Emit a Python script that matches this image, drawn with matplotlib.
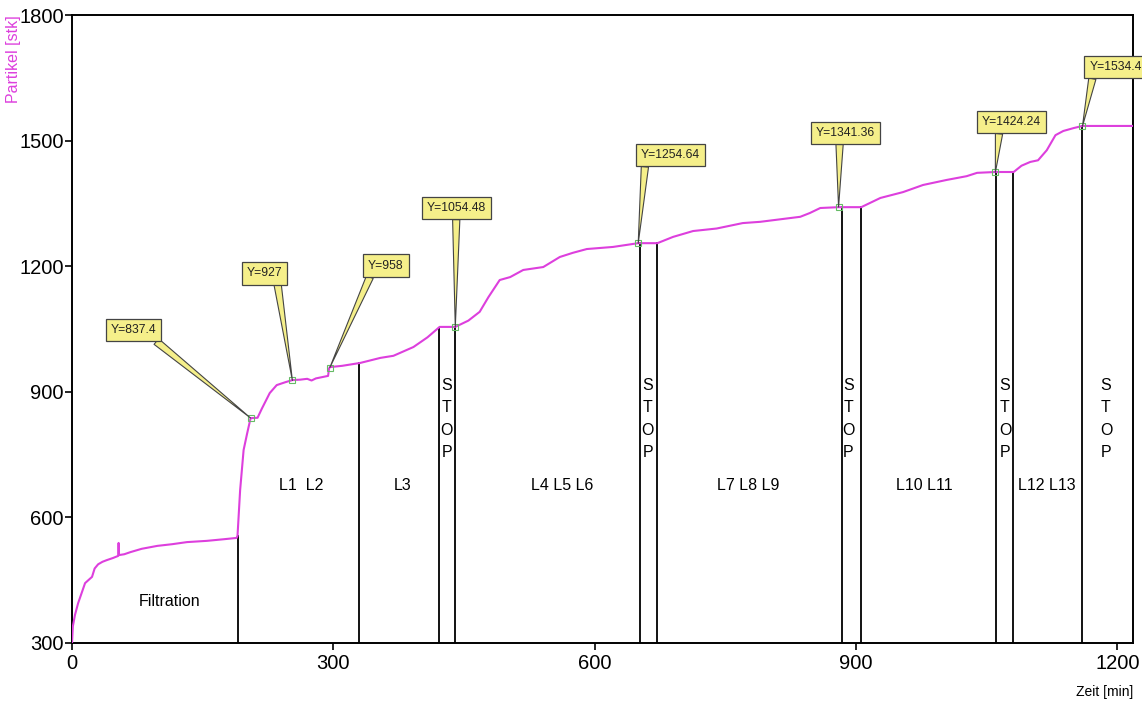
import matplotlib
matplotlib.use("Agg")
import matplotlib.pyplot as plt
import numpy as np

plt.rcParams['font.family'] = ['Liberation Sans', 'DejaVu Sans']

# Particle count curve: time [min] and particles [stk]
zeit = [0, 1, 3.4, 7, 15, 23, 26, 30, 35, 40, 47, 53, 53.5, 54, 60, 67, 80, 98, 115, 132,
        155, 175, 189, 190, 193, 197, 201, 205, 213, 218, 227, 235, 245, 253, 262, 270, 275,
        280, 294, 295, 296, 310, 331, 354, 369, 392, 408, 422, 440, 455, 468, 478, 491, 503,
        518, 541, 560, 575, 591, 621, 650, 672, 690, 713, 740, 770, 790, 836, 847, 859, 880,
        906, 928, 954, 977, 1004, 1027, 1039, 1060, 1081, 1090, 1100, 1109, 1119, 1129, 1138,
        1150, 1160, 1218]
partikel = [300, 340, 367, 395, 443, 458, 478, 488, 494, 498, 503, 508, 539, 510, 512, 517,
            525, 532, 536, 541, 544, 548, 551, 556, 665, 761, 800, 837, 838, 860, 897, 916,
            923, 928, 929, 931, 927, 932, 938, 955, 959, 962, 969, 981, 986, 1007, 1030, 1055,
            1055, 1070, 1091, 1126, 1167, 1174, 1191, 1198, 1222, 1232, 1241, 1246, 1255, 1255,
            1270, 1284, 1290, 1303, 1306, 1318, 1327, 1339, 1341, 1341, 1363, 1377, 1394, 1406,
            1415, 1423, 1425, 1425, 1440, 1449, 1453, 1477, 1513, 1523, 1530, 1535, 1535]

# Annotated points
mark_x = [205, 253, 296, 440, 650, 880, 1060, 1160]
mark_y = [837.4, 927, 958, 1054.48, 1254.64, 1341.36, 1424.24, 1534.4]
mark_labels = ["Y=837.4", "Y=927", "Y=958", "Y=1054.48", "Y=1254.64", "Y=1341.36",
               "Y=1424.24", "Y=1534.4"]
# callout box offsets (pixels) and wedge attachment on box
box_dx = [-117, -28, 56, 1, 32, 7, 16, 33]
box_dy = [88, 107, 102, 119, 88, 74, 50, 59]
box_rel = [0.85, 0.85, 0.12, 0.5, 0.08, 0.4, 0.3, 0.08]

# Phase separator lines
sep_x = [190, 330, 421, 440, 652, 672, 884, 906, 1061, 1080, 1160]

# Phase labels
phase_labels = ["Filtration", "L1  L2", "L3", "L4 L5 L6", "L7 L8 L9", "L10 L11", "L12 L13"]
phase_x = [112, 263, 379, 563, 776, 978, 1119]
phase_y = [400, 677, 677, 677, 677, 677, 677]
stop_x = [430, 661, 891, 1071, 1187]

magenta = '#dd3fdd'
yellow = '#f5ef8a'

fig = plt.figure(figsize=(11.42, 7.04), dpi=100)
ax = fig.add_axes([72/1142, 1-643/704, (1133-72)/1142, (643-15)/704])

for xv in sep_x:
    top = np.interp(xv, zeit, partikel)
    ax.plot([xv, xv], [300, top], color='black', lw=1.3, zorder=2)

ax.plot(zeit, partikel, color=magenta, lw=1.5, zorder=3)
ax.plot(mark_x, mark_y, ls='none', marker='s', ms=4, mfc='none', mec='#66bb66', mew=0.8, zorder=4)

for lbl, xv, yv in zip(phase_labels, phase_x, phase_y):
    ax.text(xv, yv, lbl, ha='center', va='center', fontsize=11.5)
for xv in stop_x:
    ax.text(xv, 835, "S\nT\nO\nP", ha='center', va='center', fontsize=11.5, linespacing=1.6)

for lbl, xv, yv, dx, dy, rp in zip(mark_labels, mark_x, mark_y, box_dx, box_dy, box_rel):
    ax.annotate(lbl, xy=(xv, yv), xytext=(dx, dy), textcoords='offset pixels',
                ha='center', va='center', fontsize=8.7, color='#222222',
                bbox=dict(boxstyle='square,pad=0.42', fc=yellow, ec='#444444', lw=0.9),
                arrowprops=dict(arrowstyle='wedge,tail_width=0.6,shrink_factor=0.5', fc=yellow,
                                ec='#444444', lw=0.8, relpos=(rp, 0), shrinkA=0, shrinkB=0),
                annotation_clip=False, zorder=5)

ax.set_xlim(0, 1218)
ax.set_ylim(300, 1800)
ax.set_xticks([0, 300, 600, 900, 1200])
ax.set_yticks([300, 600, 900, 1200, 1500, 1800])
ax.tick_params(axis='both', labelsize=14.5, length=5, width=1.2, direction='out')
ax.tick_params(axis='y', pad=1)
ax.tick_params(axis='x', pad=3)
for sp in ax.spines.values():
    sp.set_linewidth(1.4)
    sp.set_color('black')

fig.text(14/1142, 1-15/704, "Partikel [stk]", rotation=90, ha='center', va='top',
         color=magenta, fontsize=11.5)
fig.text(1105/1142, 1-692/704, "Zeit [min]", ha='center', va='center', fontsize=10)

fig.savefig("out.png", dpi=100)
